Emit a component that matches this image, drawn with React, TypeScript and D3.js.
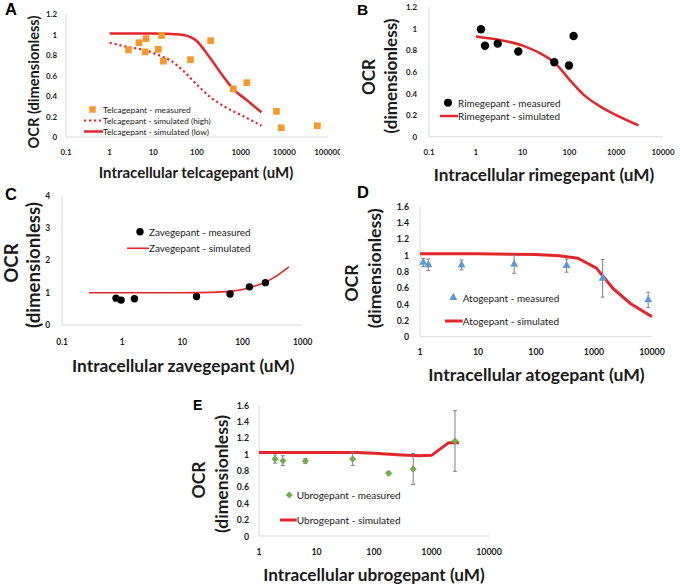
import React from "react";
import * as d3 from "d3";

const FONT = "Lato, 'Open Sans', sans-serif";
const LETTER_FONT = "'Liberation Sans', Arial, sans-serif";
const RED = "#E3262B";
const ORANGE = "#F79A2E";
const BLUE = "#5B9BD5";
const GREEN = "#70AD47";
const AXIS = "#D9D9D9";
const TXT = "#1a1a1a";
const ERR = "#808080";

// ---------- Panel A: telcagepant ----------
const telcaMeasuredX = [2.7, 4.7, 6.8, 6.5, 13, 15.4, 17, 71, 205, 680, 1380, 6600, 8500, 57000];
const telcaMeasuredY = [0.85, 0.92, 0.96, 0.83, 0.855, 0.99, 0.74, 0.755, 0.94, 0.47, 0.53, 0.25, 0.09, 0.11];
const telcaHighX = [1, 2.5, 6, 13, 24, 50, 100, 200, 500, 1200, 3000];
const telcaHighY = [0.92, 0.88, 0.85, 0.8, 0.75, 0.64, 0.51, 0.39, 0.28, 0.2, 0.11];
const telcaLowX = [1, 10, 40, 90, 200, 400, 700, 1200, 3000];
const telcaLowY = [1.01, 1.01, 1.0, 0.95, 0.77, 0.59, 0.46, 0.38, 0.24];
const aXTicks = [0.1, 1, 10, 100, 1000, 10000, 100000];
const aXTickLabels = ["0.1", "1", "10", "100", "1000", "10000", "100000"];
const aYTicks = [0, 0.2, 0.4, 0.6, 0.8, 1, 1.2];
const aYTickLabels = ["0", "0.2", "0.4", "0.6", "0.8", "1", "1.2"];

// ---------- Panel B: rimegepant ----------
const rimeMeasuredX = [1.29, 1.57, 2.94, 8.1, 47.5, 98, 123];
const rimeMeasuredY = [0.996, 0.844, 0.863, 0.79, 0.69, 0.66, 0.934];
const rimeSimX = [1, 3, 10, 20, 50, 100, 200, 500, 1000, 3000];
const rimeSimY = [0.93, 0.9, 0.845, 0.79, 0.68, 0.53, 0.39, 0.27, 0.2, 0.105];
const bXTicks = [0.1, 1, 10, 100, 1000, 10000];
const bXTickLabels = ["0.1", "1", "10", "100", "1000", "10000"];
const bYTicks = [0, 0.2, 0.4, 0.6, 0.8, 1, 1.2];
const bYTickLabels = ["0", "0.2", "0.4", "0.6", "0.8", "1", "1.2"];

// ---------- Panel C: zavegepant ----------
const zaveMeasuredX = [0.79, 0.96, 1.6, 17.2, 62, 130, 240];
const zaveMeasuredY = [0.83, 0.77, 0.81, 0.88, 0.96, 1.18, 1.31];
const zaveSimX = [0.28, 1, 10, 30, 60, 100, 200, 300, 590];
const zaveSimY = [1.0, 1.0, 1.0, 1.01, 1.04, 1.1, 1.27, 1.42, 1.8];
const cXTicks = [0.1, 1, 10, 100, 1000];
const cXTickLabels = ["0.1", "1", "10", "100", "1000"];
const cYTicks = [0, 1, 2, 3, 4];
const cYTickLabels = ["0", "1", "2", "3", "4"];

// ---------- Panel D: atogepant ----------
const atoMeasuredX = [1.14, 1.39, 5.2, 42, 337, 1410, 8600];
const atoMeasuredY = [0.91, 0.88, 0.878, 0.886, 0.87, 0.715, 0.45];
const atoMeasuredErr = [0.05, 0.07, 0.06, 0.11, 0.08, 0.23, 0.095];
const atoSimX = [1, 10, 100, 250, 530, 1100, 2130, 4160, 10000];
const atoSimY = [1.015, 1.015, 1.005, 0.99, 0.96, 0.84, 0.59, 0.41, 0.245];
const dXTicks = [1, 10, 100, 1000, 10000];
const dXTickLabels = ["1", "10", "100", "1000", "10000"];
const dYTicks = [0, 0.2, 0.4, 0.6, 0.8, 1, 1.2, 1.4, 1.6];
const dYTickLabels = ["0", "0.2", "0.4", "0.6", "0.8", "1", "1.2", "1.4", "1.6"];

// ---------- Panel E: ubrogepant ----------
const ubroMeasuredX = [1.9, 2.6, 6.4, 42.5, 180, 480, 2560];
const ubroMeasuredY = [0.94, 0.92, 0.916, 0.94, 0.765, 0.818, 1.16];
const ubroMeasuredErr = [0.05, 0.06, 0.03, 0.08, 0.02, 0.19, 0.37];
const ubroSimX = [1, 50, 100, 300, 600, 1000, 2000, 3000];
const ubroSimY = [1.02, 1.02, 1.01, 0.99, 0.98, 0.985, 1.14, 1.14];
const eXTicks = [1, 10, 100, 1000, 10000];
const eXTickLabels = ["1", "10", "100", "1000", "10000"];
const eYTicks = [0, 0.2, 0.4, 0.6, 0.8, 1, 1.2, 1.4, 1.6];
const eYTickLabels = ["0", "0.2", "0.4", "0.6", "0.8", "1", "1.2", "1.4", "1.6"];

// font-size fitting: size so that the text's natural width equals a target width
let _ctx: CanvasRenderingContext2D | null = null;
function fit(text: string, weight: string, target: number, fallback: number): number {
  try {
    if (!_ctx) _ctx = document.createElement("canvas").getContext("2d");
    if (!_ctx) return fallback;
    _ctx.font = `${weight} 100px ${FONT}`;
    const w = _ctx.measureText(text).width;
    if (!w) return fallback;
    return (100 * target) / w;
  } catch (e) {
    return fallback;
  }
}

type LineSpec = { xs: number[]; ys: number[]; width: number; dash?: string; smooth?: boolean };
type MarkerSpec = { xs: number[]; ys: number[]; err?: number[]; shape: string; size: number; color: string };
type LegendSpec = { kind: "marker" | "line"; shape?: string; size?: number; color?: string; width?: number; dash?: string; x0: number; x1: number; y: number; text: string; tx: number; len: number };

function Marker({ shape, cx, cy, size, color }: { shape: string; cx: number; cy: number; size: number; color: string }) {
  if (shape === "square") return <rect x={cx - size / 2} y={cy - size / 2} width={size} height={size} fill={color} />;
  if (shape === "circle") return <circle cx={cx} cy={cy} r={size / 2} fill={color} />;
  if (shape === "triangle") {
    const w = size, h = size * 0.9;
    return <path d={`M${cx},${cy - (h * 2) / 3}L${cx + w / 2},${cy + h / 3}L${cx - w / 2},${cy + h / 3}Z`} fill={color} />;
  }
  const s = size / 2;
  return <path d={`M${cx},${cy - s}L${cx + s},${cy}L${cx},${cy + s}L${cx - s},${cy}Z`} fill={color} />;
}

type PanelProps = {
  id: string;
  clipW?: number;
  letter: string; letterX: number; letterY: number; letterSize: number;
  xDomain: [number, number]; xRange: [number, number];
  yMax: number; yRange: [number, number];
  xTicks: number[]; xTickLabels: string[]; yTicks: number[]; yTickLabels: string[];
  tickRef: string; tickRefW: number; xTickY: number; yTickX: number;
  xTitle: string; xTitleX: number; xTitleY: number; xTitleLen: number;
  yTitles: { text: string; x: number; y: number; len?: number }[];
  lines: LineSpec[]; markers: MarkerSpec[]; legend: LegendSpec[];
};

function Panel(p: PanelProps) {
  const x = d3.scaleLog().domain(p.xDomain).range(p.xRange);
  const y = d3.scaleLinear().domain([0, p.yMax]).range(p.yRange);
  const tickSize = fit(p.tickRef, "bold", p.tickRefW, 9.5);
  const xTitleSize = fit(p.xTitle, "bold", p.xTitleLen, 15);
  const longY = p.yTitles.find((t) => t.len) || p.yTitles[0];
  const yTitleSize = fit(longY.text, "bold", longY.len || 100, 15);
  const content = (
    <g>
      <text x={p.letterX} y={p.letterY} fontFamily={LETTER_FONT} fontWeight="bold" fontSize={p.letterSize} fill="#000">{p.letter}</text>
      <line x1={p.xRange[0]} x2={p.xRange[1]} y1={y(0)} y2={y(0)} stroke={AXIS} strokeWidth={1} />
      <line x1={p.xRange[0]} x2={p.xRange[0]} y1={y(0)} y2={y(p.yMax)} stroke={AXIS} strokeWidth={1} />
      {p.xTicks.map((t, i) => (
        <text key={"xt" + i} x={x(t)} y={p.xTickY} textAnchor="middle" dominantBaseline="central" fontFamily={FONT} fontWeight="bold" fontSize={tickSize} fill={TXT}>{p.xTickLabels[i]}</text>
      ))}
      {p.yTicks.map((t, i) => (
        <text key={"yt" + i} x={p.yTickX} y={y(t)} textAnchor="end" dominantBaseline="central" fontFamily={FONT} fontWeight="bold" fontSize={tickSize} fill={TXT}>{p.yTickLabels[i]}</text>
      ))}
      <text x={p.xTitleX} y={p.xTitleY} textAnchor="middle" dominantBaseline="central" fontFamily={FONT} fontWeight="bold" fontSize={xTitleSize} fill={TXT}>{p.xTitle}</text>
      {p.yTitles.map((t, i) => (
        <text key={"yti" + i} transform={`translate(${t.x},${t.y}) rotate(-90)`} textAnchor="middle" dominantBaseline="central" fontFamily={FONT} fontWeight="bold" fontSize={yTitleSize} fill={TXT}>{t.text}</text>
      ))}
      {p.lines.map((l, i) => {
        const gen = d3.line<number>().x((_, j) => x(l.xs[j])).y((_, j) => y(l.ys[j])).curve(l.smooth ? d3.curveMonotoneX : d3.curveLinear);
        return <path key={"l" + i} d={gen(l.xs) || ""} fill="none" stroke={RED} strokeWidth={l.width} strokeDasharray={l.dash} strokeLinejoin="round" />;
      })}
      {p.markers.map((m, i) => (
        <g key={"m" + i}>
          {m.err && m.xs.map((v, j) => {
            const cx = x(v);
            const top = y(m.ys[j] + m.err![j]);
            const bot = y(m.ys[j] - m.err![j]);
            return (
              <g key={"e" + j} stroke={ERR} strokeWidth={1}>
                <line x1={cx} x2={cx} y1={top} y2={bot} />
                <line x1={cx - 2} x2={cx + 2} y1={top} y2={top} />
                <line x1={cx - 2} x2={cx + 2} y1={bot} y2={bot} />
              </g>
            );
          })}
          {m.xs.map((v, j) => (
            <Marker key={"p" + j} shape={m.shape} cx={x(v)} cy={y(m.ys[j])} size={m.size} color={m.color} />
          ))}
        </g>
      ))}
      {p.legend.map((g, i) => (
        <g key={"lg" + i}>
          {g.kind === "marker" ? (
            <Marker shape={g.shape!} cx={(g.x0 + g.x1) / 2} cy={g.y} size={g.size!} color={g.color!} />
          ) : (
            <line x1={g.x0} x2={g.x1} y1={g.y} y2={g.y} stroke={RED} strokeWidth={g.width} strokeDasharray={g.dash} />
          )}
          <text x={g.tx} y={g.y} dominantBaseline="central" fontFamily={FONT} fontSize={fit(g.text, "normal", g.len, 10)} fill={TXT}>{g.text}</text>
        </g>
      ))}
    </g>
  );
  if (p.clipW) {
    return (
      <g>
        <defs>
          <clipPath id={p.id}><rect x={0} y={0} width={p.clipW} height={190} /></clipPath>
        </defs>
        <g clipPath={`url(#${p.id})`}>{content}</g>
      </g>
    );
  }
  return content;
}

export default function App() {
  return (
    <svg width={680} height={584} viewBox="0 0 680 584" style={{ position: "absolute", left: 0, top: 0, background: "#fff" }}>
      <rect x={0} y={0} width={680} height={584} fill="#fff" />
      <Panel
        id="clipA" clipW={340}
        letter="A" letterX={5} letterY={15} letterSize={16.5}
        xDomain={[0.1, 100000]} xRange={[66, 328]} yMax={1.2} yRange={[137, 14]}
        xTicks={aXTicks} xTickLabels={aXTickLabels} yTicks={aYTicks} yTickLabels={aYTickLabels}
        tickRef="10000" tickRefW={23} xTickY={152} yTickX={57}
        xTitle="Intracellular telcagepant (uM)" xTitleX={196} xTitleY={172} xTitleLen={195}
        yTitles={[{ text: "OCR (dimensionless)", x: 33, y: 82, len: 133 }]}
        lines={[
          { xs: telcaHighX, ys: telcaHighY, width: 2.2, dash: "2.2 2.8", smooth: true },
          { xs: telcaLowX, ys: telcaLowY, width: 2.5, smooth: true },
        ]}
        markers={[{ xs: telcaMeasuredX, ys: telcaMeasuredY, shape: "square", size: 6.7, color: ORANGE }]}
        legend={[
          { kind: "marker", shape: "square", size: 6.5, color: ORANGE, x0: 84, x1: 101, y: 109.5, text: "Telcagepant - measured", tx: 103, len: 88 },
          { kind: "line", width: 2.2, dash: "2.2 2.8", x0: 84, x1: 103, y: 120.5, text: "Telcagepant - simulated (high)", tx: 103, len: 108 },
          { kind: "line", width: 2.5, x0: 84, x1: 103, y: 131.5, text: "Telcagepant - simulated (low)", tx: 103, len: 106 },
        ]}
      />
      <Panel
        id="clipB"
        letter="B" letterX={357} letterY={15} letterSize={15.5}
        xDomain={[0.1, 10000]} xRange={[429, 663]} yMax={1.2} yRange={[136.7, 7.3]}
        xTicks={bXTicks} xTickLabels={bXTickLabels} yTicks={bYTicks} yTickLabels={bYTickLabels}
        tickRef="10000" tickRefW={23} xTickY={152} yTickX={417}
        xTitle="Intracellular rimegepant (uM)" xTitleX={544} xTitleY={174} xTitleLen={221}
        yTitles={[
          { text: "OCR", x: 368, y: 77 },
          { text: "(dimensionless)", x: 390.5, y: 76, len: 115 },
        ]}
        lines={[{ xs: rimeSimX, ys: rimeSimY, width: 2.5, smooth: true }]}
        markers={[{ xs: rimeMeasuredX, ys: rimeMeasuredY, shape: "circle", size: 8.4, color: "#000" }]}
        legend={[
          { kind: "marker", shape: "circle", size: 8, color: "#000", x0: 444, x1: 452, y: 102.7, text: "Rimegepant - measured", tx: 458, len: 102.7 },
          { kind: "line", width: 2.5, x0: 440, x1: 458, y: 116, text: "Rimegepant - simulated", tx: 458, len: 102.3 },
        ]}
      />
      <Panel
        id="clipC"
        letter="C" letterX={5} letterY={200} letterSize={16.5}
        xDomain={[0.1, 1000]} xRange={[62, 302.7]} yMax={4} yRange={[325, 195.7]}
        xTicks={cXTicks} xTickLabels={cXTickLabels} yTicks={cYTicks} yTickLabels={cYTickLabels}
        tickRef="1000" tickRefW={19.5} xTickY={341.7} yTickX={50}
        xTitle="Intracellular zavegepant (uM)" xTitleX={183.3} xTitleY={365} xTitleLen={223}
        yTitles={[
          { text: "OCR", x: 11, y: 263 },
          { text: "(dimensionless)", x: 33.3, y: 265, len: 126 },
        ]}
        lines={[{ xs: zaveSimX, ys: zaveSimY, width: 1.6, smooth: true }]}
        markers={[{ xs: zaveMeasuredX, ys: zaveMeasuredY, shape: "circle", size: 7.4, color: "#000" }]}
        legend={[
          { kind: "marker", shape: "circle", size: 7.4, color: "#000", x0: 136, x1: 144, y: 231.7, text: "Zavegepant - measured", tx: 149, len: 101.7 },
          { kind: "line", width: 1.6, x0: 127, x1: 149, y: 248.3, text: "Zavegepant - simulated", tx: 149, len: 101.7 },
        ]}
      />
      <Panel
        id="clipD"
        letter="D" letterX={357} letterY={198} letterSize={16.5}
        xDomain={[1, 10000]} xRange={[420, 652]} yMax={1.6} yRange={[336.7, 206]}
        xTicks={dXTicks} xTickLabels={dXTickLabels} yTicks={dYTicks} yTickLabels={dYTickLabels}
        tickRef="10000" tickRefW={25.5} xTickY={351.7} yTickX={409}
        xTitle="Intracellular atogepant (uM)" xTitleX={536.5} xTitleY={374} xTitleLen={217}
        yTitles={[
          { text: "OCR", x: 351, y: 283 },
          { text: "(dimensionless)", x: 374, y: 268.3, len: 120 },
        ]}
        lines={[{ xs: atoSimX, ys: atoSimY, width: 3, smooth: false }]}
        markers={[{ xs: atoMeasuredX, ys: atoMeasuredY, err: atoMeasuredErr, shape: "triangle", size: 8, color: BLUE }]}
        legend={[
          { kind: "marker", shape: "triangle", size: 8, color: BLUE, x0: 449, x1: 457.6, y: 297.5, text: "Atogepant - measured", tx: 462.7, len: 96.7 },
          { kind: "line", width: 3, x0: 445, x1: 462.7, y: 321, text: "Atogepant - simulated", tx: 462.7, len: 96.7 },
        ]}
      />
      <Panel
        id="clipE"
        letter="E" letterX={193} letterY={410} letterSize={14}
        xDomain={[1, 10000]} xRange={[259, 489]} yMax={1.6} yRange={[536, 405]}
        xTicks={eXTicks} xTickLabels={eXTickLabels} yTicks={eYTicks} yTickLabels={eYTickLabels}
        tickRef="10000" tickRefW={25.5} xTickY={551.7} yTickX={249}
        xTitle="Intracellular ubrogepant (uM)" xTitleX={374} xTitleY={574} xTitleLen={222}
        yTitles={[
          { text: "OCR", x: 198.3, y: 480 },
          { text: "(dimensionless)", x: 221, y: 474, len: 118 },
        ]}
        lines={[{ xs: ubroSimX, ys: ubroSimY, width: 3, smooth: false }]}
        markers={[{ xs: ubroMeasuredX, ys: ubroMeasuredY, err: ubroMeasuredErr, shape: "diamond", size: 7, color: GREEN }]}
        legend={[
          { kind: "marker", shape: "diamond", size: 7, color: GREEN, x0: 285.8, x1: 292.8, y: 495, text: "Ubrogepant - measured", tx: 296.7, len: 104 },
          { kind: "line", width: 3, x0: 280, x1: 296.7, y: 520, text: "Ubrogepant - simulated", tx: 296.7, len: 104 },
        ]}
      />
    </svg>
  );
}
